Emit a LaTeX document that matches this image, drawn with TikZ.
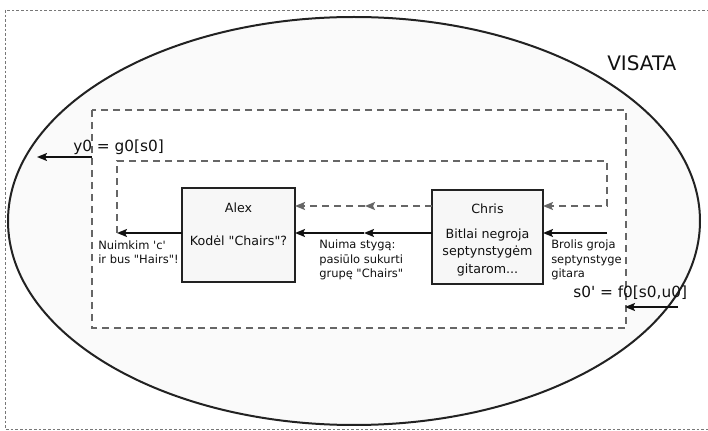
\documentclass[tikz,border=0pt]{standalone}
\usepackage{fontspec}
\setmainfont{DejaVu Sans}
\usetikzlibrary{arrows.meta}
\definecolor{dgray}{HTML}{666666}
\definecolor{fgray}{HTML}{777777}
\definecolor{ink}{HTML}{111111}
\definecolor{edge}{HTML}{222222}
\definecolor{ufill}{HTML}{FAFAFA}
\definecolor{bfill}{HTML}{F7F7F7}
\newcommand{\myq}{\textquotesingle}
\newcommand{\mydq}{\textquotedbl}
\begin{document}
\begin{tikzpicture}[x=0.75pt,y=-0.75pt,
  frame/.style={draw=fgray, line width=0.6pt, dash pattern=on 2pt off 1.5pt},
  univ/.style={draw=edge, fill=ufill, line width=1.5pt},
  innerbox/.style={draw=dgray, fill=white, line width=1.2pt, dash pattern=on 5.5pt off 3.5pt},
  pbox/.style={draw=edge, fill=bfill, line width=1pt, inner sep=0pt, outer sep=0pt,
    minimum height=70.5pt},
  boxtxt/.style={font=\fontsize{9.5}{13}\selectfont, text=ink, inner sep=0pt},
  lbl/.style={font=\fontsize{8.6}{11.2}\selectfont, text=ink, inner sep=0pt, align=left},
  eqtxt/.style={font=\fontsize{11.5}{14}\selectfont, text=ink, inner sep=0pt},
  arr/.style={-{Stealth[length=7.5pt,width=6pt,inset=1.5pt]}, draw=ink, line width=1.2pt},
  garr/.style={-{Stealth[length=7.5pt,width=6pt,inset=1.5pt]}, draw=dgray, line width=1.2pt,
    dash pattern=on 5.5pt off 3.5pt},
]
\useasboundingbox (0,0) rectangle (708,431);
\draw[frame] (5,10) rectangle (720,429);
\draw[univ] (354,221) ellipse [x radius=259.5pt, y radius=153pt];
\node[font=\fontsize{15}{18}\selectfont, text=ink, inner sep=0pt, anchor=base west] (visata) at (607,71) {VISATA};
\draw[innerbox] (92,110) rectangle (626,328);

% boxes
\node[pbox, minimum width=84.75pt] (alex) at (238.5,235) {};
\node[pbox, minimum width=83.25pt] (chris) at (487.5,237) {};
\node[boxtxt, anchor=base] (alexname) at (238.5,213) {Alex};
\node[boxtxt, anchor=base] (alexq) at (238.5,246) {Kodėl \mydq Chairs\mydq?};
\node[boxtxt, anchor=base] (chrisname) at (487.5,214) {Chris};
\node[boxtxt, anchor=base] (chris1) at (487.5,239) {Bitlai negroja};
\node[boxtxt, anchor=base] (chris2) at (487.5,256) {septynstygėm};
\node[boxtxt, anchor=base] (chris3) at (487.5,274) {gitarom...};

% coordinates
\coordinate (inR) at (607,233);
\coordinate (mid) at (364,233);
\coordinate (fbL) at (117,233);
\coordinate (fbT) at (117,161);
\coordinate (fbR) at (607,161);
\coordinate (fbRd) at (607,206);
\coordinate (gmid) at (365,206);
\coordinate (yS) at (92,157);
\coordinate (yE) at (37,157);
\coordinate (sS) at (678,307);
\coordinate (sE) at (625,307);

% solid chain
\draw[arr] (inR) -- (chris.east |- inR);
\draw[arr] (chris.west |- mid) -- (mid);
\draw[arr] (mid) -- (alex.east |- mid);
\draw[arr] (alex.west |- fbL) -- (fbL);

% dashed feedback
\draw[garr] (fbL) -- (fbT) -- (fbR) -- (fbRd) -- (chris.east |- fbRd);
\draw[garr] (chris.west |- gmid) -- (gmid);
\draw[garr] (gmid) -- (alex.east |- gmid);

% outputs / inputs
\draw[arr] (yS) -- (yE);
\draw[arr] (sS) -- (sE);
\node[eqtxt, anchor=base west] (yeq) at (73,152) {y0 = g0[s0]};
\node[eqtxt, anchor=base west] (seq) at (573,298) {s0\myq{} = f0[s0,u0]};

% labels (base = baseline of last line)
\node[lbl, anchor=base west] (lblA) at (98,264) {Nuimkim \myq c\myq\\ir bus \mydq Hairs\mydq!};
\node[lbl, anchor=base west] (lblB) at (319,278) {Nuima stygą:\\pasiūlo sukurti\\grupę \mydq Chairs\mydq};
\node[lbl, anchor=base west] (lblC) at (551,278) {Brolis groja\\septynstyge\\gitara};
\end{tikzpicture}
\end{document}
